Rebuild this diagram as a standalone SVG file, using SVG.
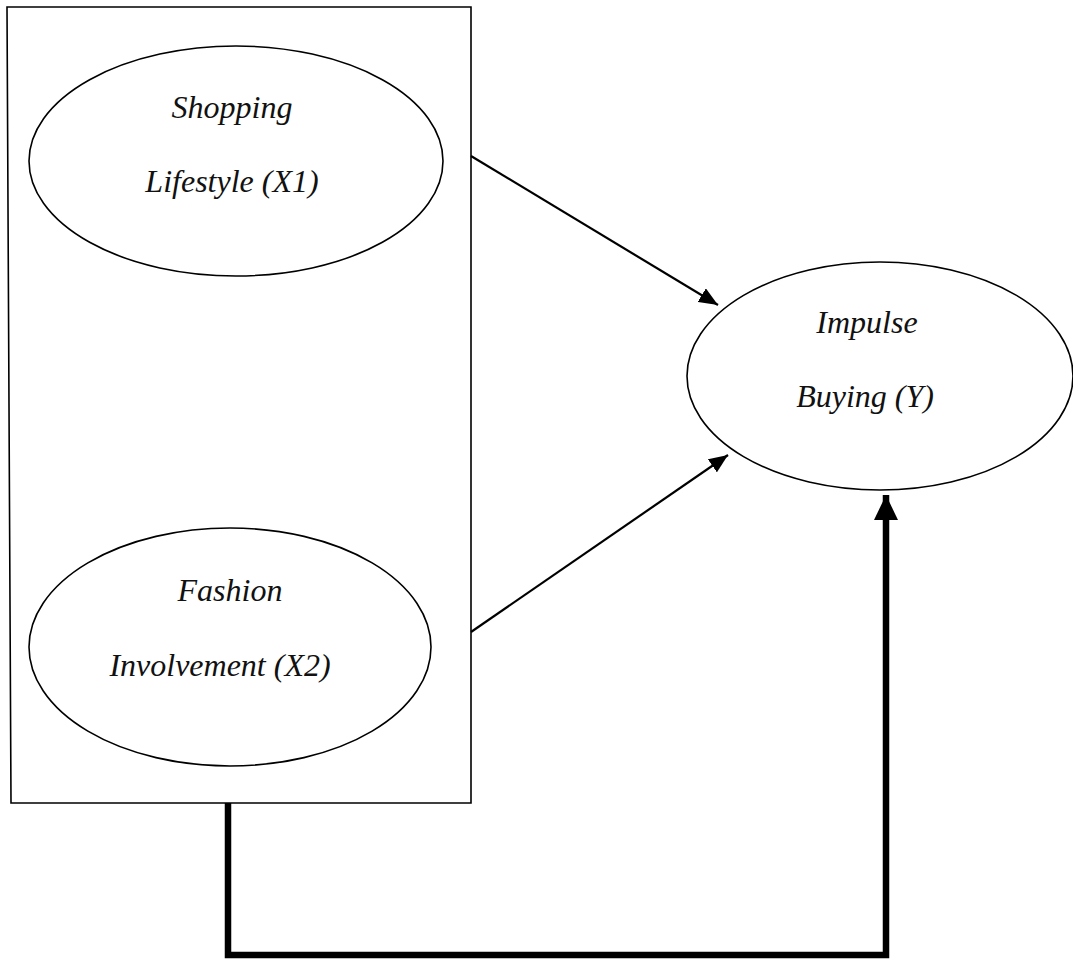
<svg xmlns="http://www.w3.org/2000/svg" width="1073" height="960" viewBox="0 0 1073 960">
<style>
.shape{fill:none;stroke:#000;stroke-width:1.6}
.node ellipse{fill:#fff;stroke:#000;stroke-width:1.6}
.lbl{font-family:"Liberation Serif","Times New Roman",serif;font-style:italic;font-size:32px;fill:#111;text-anchor:middle}
.conn{fill:none;stroke:#000;stroke-width:2.2}
.thick{fill:none;stroke:#000;stroke-width:6.5}
</style>
<defs>
<marker id="ah" markerUnits="userSpaceOnUse" markerWidth="20" markerHeight="16" refX="19" refY="8" orient="auto">
<path d="M0,0 L19,8 L0,16 Z" fill="#000"/>
</marker>
<marker id="ahb" markerUnits="userSpaceOnUse" markerWidth="26" markerHeight="24" refX="25" refY="12" orient="auto">
<path d="M0,0 L25,12 L0,24 Z" fill="#000"/>
</marker>
</defs>
<rect width="1073" height="960" fill="#fff"/>
<g id="box">
<path class="shape" d="M7,7 L471,7 L471,803 L11,803 Z"/>
</g>
<g id="connectors">
<line class="conn" x1="471" y1="156" x2="718" y2="305" marker-end="url(#ah)"/>
<line class="conn" x1="471" y1="632" x2="728" y2="455" marker-end="url(#ah)"/>
<path class="thick" d="M228,803 V955 H886 V495" marker-end="url(#ahb)"/>
</g>
<g id="node-x1" class="node">
<ellipse cx="236" cy="161" rx="207" ry="115"/>
<text class="lbl" x="232" y="118">Shopping</text>
<text class="lbl" x="232" y="192">Lifestyle (X1)</text>
</g>
<g id="node-x2" class="node">
<ellipse cx="230" cy="647" rx="201" ry="119"/>
<text class="lbl" x="230" y="601">Fashion</text>
<text class="lbl" x="220" y="676">Involvement (X2)</text>
</g>
<g id="node-y" class="node">
<ellipse cx="880" cy="376" rx="193" ry="114"/>
<text class="lbl" x="867" y="333">Impulse</text>
<text class="lbl" x="865" y="407">Buying (Y)</text>
</g>
</svg>
